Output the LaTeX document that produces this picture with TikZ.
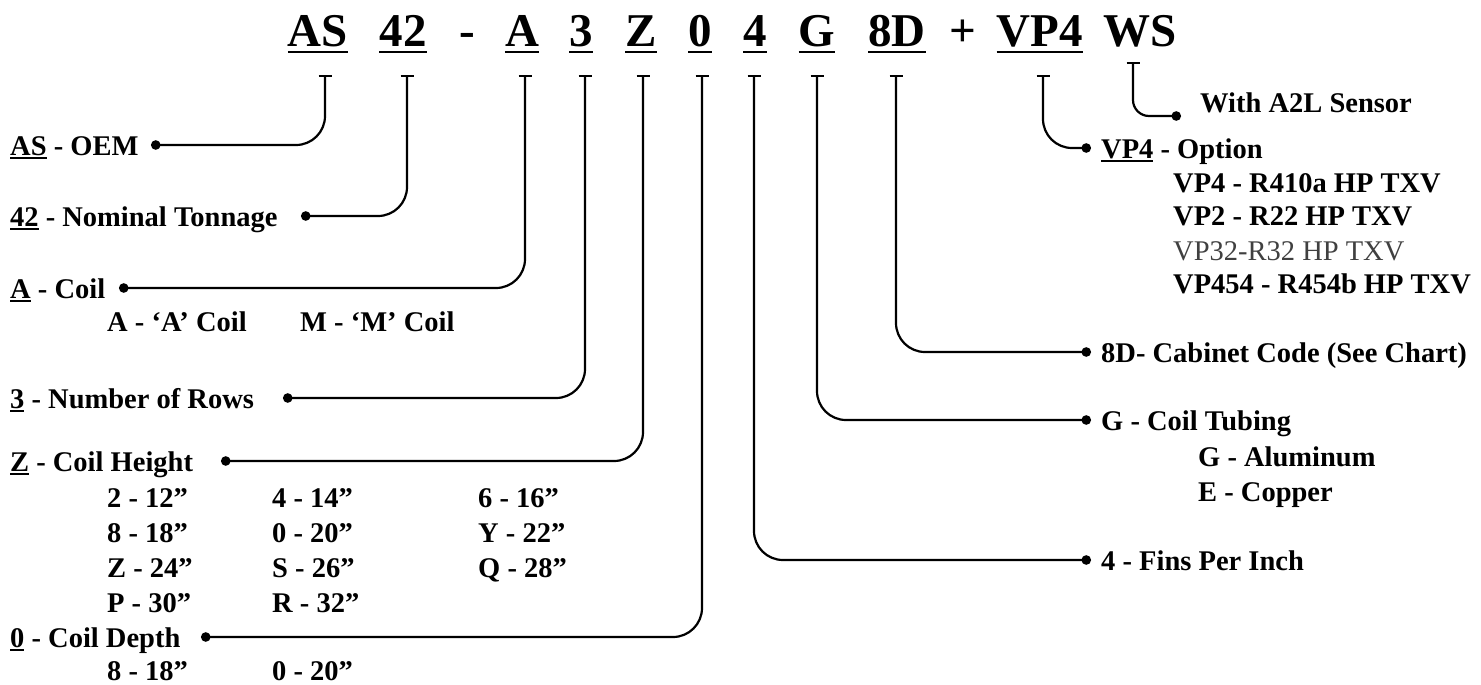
\documentclass[tikz,border=0pt]{standalone}
\usepackage{fontspec}
\setmainfont{Liberation Serif}
\usetikzlibrary{arrows.meta}
\newsavebox\ulbox
\newcommand\ulcode[1]{\sbox\ulbox{#1}\rlap{\rule[-3.5pt]{\wd\ulbox}{1.6pt}}\usebox\ulbox}
\tikzset{
hdr/.style={font=\fontsize{47}{50}\selectfont\bfseries,inner sep=0pt,anchor=base},
lbl/.style={font=\fontsize{28.5}{32}\selectfont\bfseries,inner sep=0pt,anchor=base west},
link/.style={line width=2.2pt,rounded corners=29pt,{Bar[width=13pt]}-{Circle[length=9.5pt]}},
uline/.style={line width=2.4pt}}
\begin{document}
\begin{tikzpicture}[x=1pt,y=-1pt]
\useasboundingbox (0,0) rectangle (1481,685);
\clip (0,0) rectangle (1481,685);
\foreach \c/\x in {AS/318,42/403,A/522,3/581,Z/641,0/700,4/755,G/817,8D/897,VP4/1040}{
\node[hdr] (h\c) at (\x,47) {\c};
\draw[uline] ([yshift=-5pt]h\c.base west) -- ([yshift=-5pt]h\c.base east);}
\node[hdr] (hdash) at (467,47) {-};
\node[hdr] (hplus) at (963,47) {+};
\node[hdr] (hWS) at (1140,47) {WS};
\foreach \c/\x/\y/\e in {AS/325/145/151,42/407/216/301,A/525/288/119,3/585/398/283,Z/643/461/221,0/702/637/201,4/754/560/1091,G/817/420/1091,8D/896/352/1091,VP4/1043/148/1091}{
\coordinate (t\c) at (\x,75); \coordinate (e\c) at (\e,\y);
\draw[link] (t\c) |- (e\c);}
\coordinate (tWS) at (1133,62); \coordinate (eWS) at (1181,116);
\draw[link,rounded corners=16pt] (tWS) |- (eWS);
\node[lbl] (lAS) at (10,155) {\ulcode{AS} - OEM};
\node[lbl] (l42) at (10,226) {\ulcode{42} - Nominal Tonnage};
\node[lbl] (lA) at (10,298) {\ulcode{A} - Coil};
\node[lbl] (lAa) at (107,331) {A - ‘A’ Coil};
\node[lbl] (lAm) at (300,331) {M - ‘M’ Coil};
\node[lbl] (l3) at (10,408) {\ulcode{3} - Number of Rows};
\node[lbl] (lZ) at (10,471) {\ulcode{Z} - Coil Height};
\foreach \t [count=\i from 0] in {2 - 12”,4 - 14”,6 - 16”,8 - 18”,0 - 20”,Y - 22”,Z - 24”,S - 26”,Q - 28”,P - 30”,R - 32”}{
\pgfmathtruncatemacro{\row}{div(\i,3)}\pgfmathtruncatemacro{\col}{mod(\i,3)}
\pgfmathsetmacro{\cx}{{107,272,478}[\col]}
\node[lbl] (z\i) at (\cx,507+35*\row) {\t};}
\node[lbl] (l0) at (10,647) {\ulcode{0} - Coil Depth};
\node[lbl] (d0) at (107,680) {8 - 18”};
\node[lbl] (d1) at (272,680) {0 - 20”};
\node[lbl] (lWS) at (1200,113) {With A2L Sensor};
\node[lbl] (lVP4) at (1101,158) {\ulcode{VP4} - Option};
\node[lbl] (v0) at (1173,192) {VP4 - R410a HP TXV};
\node[lbl] (v1) at (1173,225) {VP2 - R22 HP TXV};
\node[lbl,font=\fontsize{28.5}{32}\selectfont,text=black!75] (v2) at (1173,260) {VP32-R32 HP TXV};
\node[lbl] (v3) at (1173,293) {VP454 - R454b HP TXV};
\node[lbl] (l8D) at (1101,362) {8D- Cabinet Code (See Chart)};
\node[lbl] (lG) at (1101,430) {G - Coil Tubing};
\node[lbl] (g0) at (1198,466) {G - Aluminum};
\node[lbl] (g1) at (1198,501) {E - Copper};
\node[lbl] (l4) at (1101,570) {4 - Fins Per Inch};
\end{tikzpicture}
\end{document}
